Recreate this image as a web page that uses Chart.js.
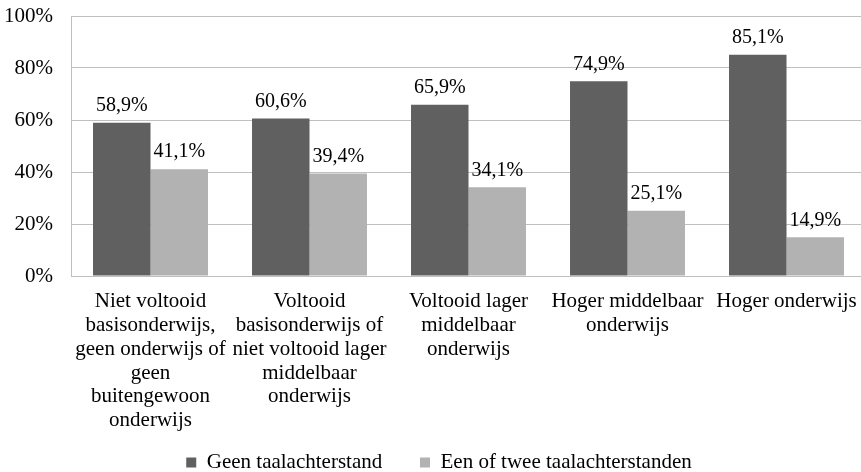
<!DOCTYPE html>
<html><head><meta charset="utf-8">
<script src="https://cdn.jsdelivr.net/npm/chart.js@4.4.0/dist/chart.umd.min.js"></script>
<style>html,body{margin:0;padding:0;background:#fff;overflow:hidden}#w{width:861px;height:472px;overflow:hidden}</style>
</head><body><div id="w"><canvas id="c" width="866" height="483"></canvas></div>
<script>
const categories = [
  ["Niet voltooid","basisonderwijs,","geen onderwijs of","geen","buitengewoon","onderwijs"],
  ["Voltooid","basisonderwijs of","niet voltooid lager","middelbaar","onderwijs"],
  ["Voltooid lager","middelbaar","onderwijs"],
  ["Hoger middelbaar","onderwijs"],
  ["Hoger onderwijs"]
];
const seriesNames = ["Geen taalachterstand","Een of twee taalachterstanden"];
const geen = [58.9, 60.6, 65.9, 74.9, 85.1];
const eenTwee = [41.1, 39.4, 34.1, 25.1, 14.9];
const yTicks = [0, 20, 40, 60, 80, 100];

const FONT = "'Liberation Serif', 'Times New Roman', serif";
const FS = 20;
const FT = 21;
const fmt = v => v.toFixed(1).replace('.', ',') + '%';

const labelPlugin = {
  id: 'barLabels',
  afterLayout(chart) {
    if (chart.legend) { chart.legend.left += 6; chart.legend.right += 6; }
  },
  afterDatasetsDraw(chart) {
    const ctx = chart.ctx;
    ctx.save();
    ctx.font = FS + "px " + FONT;
    ctx.fillStyle = '#000';
    ctx.textAlign = 'center';
    ctx.textBaseline = 'middle';
    chart.data.datasets.forEach((ds, i) => {
      chart.getDatasetMeta(i).data.forEach((bar, j) => {
        ctx.fillText(fmt(ds.data[j]), bar.x, bar.y - 17);
      });
    });
    ctx.restore();
  }
};

const NB = '\u00a0';
new Chart(document.getElementById('c'), {
  type: 'bar',
  data: {
    labels: categories,
    datasets: [
      {label: seriesNames[0], data: geen, backgroundColor: '#606060'},
      {label: seriesNames[1], data: eenTwee, backgroundColor: '#b2b2b2'}
    ]
  },
  options: {
    responsive: false,
    animation: false,
    devicePixelRatio: 1,
    layout: {padding: {top: 16, right: 0, left: 0, bottom: 0}},
    datasets: {bar: {categoryPercentage: 0.723, barPercentage: 1.0}},
    scales: {
      x: {
        grid: {display: false},
        border: {display: true, color: '#bfbfbf', width: 1},
        ticks: {font: {family: FONT, size: FT, lineHeight: 1.13}, color: '#000', maxRotation: 0, minRotation: 0, autoSkip: false, padding: 6},
        afterFit: ax => { ax.height = 175; }
      },
      y: {
        min: 0, max: 100,
        afterBuildTicks: ax => { ax.ticks = yTicks.map(v => ({value: v})); },
        grid: {color: '#bfbfbf', drawTicks: false},
        border: {display: true, color: '#bfbfbf'},
        ticks: {font: {family: FONT, size: FT}, color: '#000', padding: 18, callback: v => v + '%'},
        afterFit: ax => { ax.width = 71; ax.paddingTop = 0; ax.paddingBottom = 0; }
      }
    },
    plugins: {
      legend: {
        position: 'bottom',
        labels: {
          font: {family: FONT, size: FT}, color: '#000', usePointStyle: true, pointStyle: 'rect', boxWidth: 10, boxHeight: 10, padding: 1,
          generateLabels: chart => {
            const items = Chart.defaults.plugins.legend.labels.generateLabels(chart);
            items[0].text = items[0].text + NB.repeat(7);
            return items;
          }
        }
      },
      tooltip: {enabled: false}
    }
  },
  plugins: [labelPlugin]
});
</script></body></html>
